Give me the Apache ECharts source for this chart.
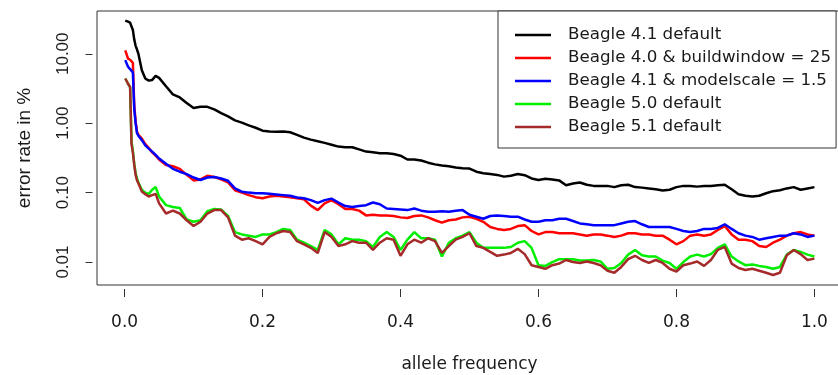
<!DOCTYPE html>
<html>
<head>
<meta charset="utf-8">
<script src="https://cdn.jsdelivr.net/npm/echarts@6/dist/echarts.min.js"></script>
<style>
html,body{margin:0;padding:0;background:#fff;}
#chart{width:838px;height:375px;}
</style>
</head>
<body>
<div id="chart"></div>
<script>
// allele frequency grid (x values)
const freq = [0.001,0.005,0.008,0.010,0.012,0.014,0.016,0.018,0.020,0.025,0.030,0.035,0.040,0.045,0.050,
  0.06,0.07,0.08,0.09,0.10,
  0.11,0.12,0.13,0.14,0.15,0.16,0.17,0.18,0.19,0.20,
  0.21,0.22,0.23,0.24,0.25,0.26,0.27,0.28,0.29,0.30,
  0.31,0.32,0.33,0.34,0.35,0.36,0.37,0.38,0.39,0.40,
  0.41,0.42,0.43,0.44,0.45,0.46,0.47,0.48,0.49,0.50,
  0.51,0.52,0.53,0.54,0.55,0.56,0.57,0.58,0.59,0.60,
  0.61,0.62,0.63,0.64,0.65,0.66,0.67,0.68,0.69,0.70,
  0.71,0.72,0.73,0.74,0.75,0.76,0.77,0.78,0.79,0.80,
  0.81,0.82,0.83,0.84,0.85,0.86,0.87,0.88,0.89,0.90,
  0.91,0.92,0.93,0.94,0.95,0.96,0.97,0.98,0.99,1.00];

const seriesNames = ["Beagle 4.1 default","Beagle 4.0 & buildwindow = 25","Beagle 4.1 & modelscale = 1.5","Beagle 5.0 default","Beagle 5.1 default"];
const seriesColors = ["#000000","#ff0000","#0000ff","#00ee00","#a52a2a"];

// error rate in %
const beagle41Default = [30,29,28,27,22,16,13,11.5,10,5.8,4.4,4.1,4.2,4.8,4.5,
  3.4,2.6,2.35,1.95,1.65,
  1.72,1.72,1.58,1.4,1.25,1.1,1.02,0.93,0.86,0.78,
  0.76,0.75,0.76,0.74,0.68,0.62,0.58,0.55,0.52,0.49,
  0.46,0.45,0.45,0.42,0.39,0.38,0.37,0.37,0.36,0.34,
  0.30,0.30,0.29,0.27,0.255,0.245,0.24,0.23,0.225,0.222,
  0.20,0.19,0.185,0.18,0.17,0.175,0.185,0.178,0.16,0.152,
  0.158,0.155,0.15,0.128,0.135,0.14,0.13,0.125,0.125,0.125,
  0.12,0.128,0.13,0.12,0.118,0.115,0.112,0.107,0.11,0.12,
  0.125,0.125,0.122,0.125,0.125,0.128,0.13,0.112,0.095,0.09,
  0.088,0.09,0.098,0.105,0.108,0.115,0.12,0.11,0.115,0.12];

const beagle40Bw25 = [11.2,8.5,8.2,8.0,7.4,1.8,1.05,0.75,0.68,0.60,0.50,0.44,0.38,0.34,0.30,
  0.25,0.24,0.22,0.18,0.15,
  0.155,0.175,0.168,0.155,0.14,0.108,0.100,0.092,0.086,0.083,
  0.088,0.090,0.088,0.086,0.083,0.080,0.065,0.056,0.070,0.078,
  0.068,0.058,0.058,0.055,0.047,0.048,0.047,0.047,0.046,0.044,
  0.043,0.046,0.047,0.044,0.040,0.037,0.040,0.041,0.044,0.045,
  0.042,0.038,0.032,0.030,0.029,0.030,0.033,0.034,0.028,0.025,
  0.027,0.027,0.026,0.026,0.026,0.025,0.024,0.025,0.025,0.024,
  0.023,0.024,0.026,0.026,0.025,0.025,0.024,0.024,0.021,0.018,
  0.020,0.024,0.025,0.024,0.025,0.029,0.033,0.025,0.021,0.021,
  0.020,0.017,0.0165,0.019,0.021,0.024,0.026,0.027,0.025,0.024];

const beagle41Ms15 = [8.1,6.5,6.0,5.8,5.4,1.6,1.0,0.72,0.66,0.57,0.48,0.43,0.39,0.35,0.31,
  0.26,0.22,0.20,0.185,0.165,
  0.152,0.165,0.168,0.16,0.148,0.115,0.103,0.10,0.098,0.098,
  0.096,0.094,0.092,0.090,0.085,0.083,0.078,0.071,0.078,0.082,
  0.072,0.064,0.062,0.064,0.066,0.072,0.068,0.059,0.058,0.057,
  0.056,0.059,0.055,0.053,0.053,0.054,0.053,0.055,0.056,0.048,
  0.045,0.042,0.046,0.047,0.046,0.045,0.045,0.041,0.038,0.038,
  0.040,0.040,0.042,0.042,0.039,0.036,0.035,0.034,0.034,0.034,
  0.034,0.036,0.038,0.039,0.035,0.032,0.032,0.032,0.032,0.030,
  0.028,0.027,0.028,0.030,0.030,0.031,0.035,0.030,0.026,0.024,
  0.023,0.021,0.022,0.023,0.024,0.024,0.026,0.025,0.023,0.024];

const beagle50Default = [4.4,3.7,3.3,0.55,0.40,0.26,0.19,0.16,0.14,0.11,0.10,0.096,0.11,0.12,0.088,
  0.066,0.062,0.060,0.041,0.038,
  0.040,0.054,0.058,0.057,0.046,0.027,0.025,0.024,0.023,0.025,
  0.025,0.027,0.030,0.029,0.021,0.019,0.017,0.015,0.029,0.025,
  0.018,0.022,0.021,0.021,0.020,0.0165,0.023,0.027,0.023,0.0149,
  0.021,0.027,0.022,0.022,0.021,0.012,0.019,0.022,0.024,0.027,
  0.019,0.016,0.016,0.016,0.016,0.0165,0.019,0.020,0.016,0.009,
  0.0088,0.010,0.011,0.011,0.011,0.0105,0.0105,0.0107,0.0102,0.008,
  0.0082,0.0097,0.0128,0.0149,0.0125,0.012,0.012,0.0105,0.0097,0.008,
  0.010,0.012,0.0128,0.012,0.013,0.016,0.018,0.012,0.0102,0.009,
  0.0092,0.0088,0.0085,0.008,0.0085,0.0128,0.0149,0.014,0.0128,0.012];

const beagle51Default = [4.4,3.7,3.3,0.50,0.38,0.25,0.18,0.15,0.136,0.104,0.095,0.088,0.092,0.096,0.070,
  0.050,0.055,0.050,0.040,0.033,
  0.038,0.050,0.056,0.056,0.044,0.024,0.021,0.022,0.020,0.018,
  0.023,0.026,0.028,0.027,0.020,0.018,0.016,0.0135,0.027,0.023,
  0.017,0.018,0.020,0.019,0.019,0.015,0.019,0.022,0.021,0.0123,
  0.018,0.021,0.019,0.022,0.020,0.0135,0.017,0.021,0.023,0.026,
  0.017,0.016,0.014,0.0123,0.0128,0.0135,0.0155,0.013,0.009,0.0085,
  0.008,0.009,0.0095,0.0107,0.010,0.0097,0.0102,0.0097,0.009,0.0075,
  0.0070,0.0085,0.011,0.0123,0.0107,0.0097,0.0107,0.0097,0.008,0.0073,
  0.009,0.0095,0.0102,0.0088,0.0107,0.0150,0.0165,0.0095,0.0082,0.0077,
  0.0080,0.0075,0.0070,0.0065,0.0070,0.0125,0.0149,0.013,0.0107,0.0112];

const xTicks = [0.0,0.2,0.4,0.6,0.8,1.0];
const yTicks = [0.01,0.1,1,10];

const allValues = [beagle41Default,beagle40Bw25,beagle41Ms15,beagle50Default,beagle51Default];

const chart = echarts.init(document.getElementById('chart'), null, {renderer:'canvas'});
const textColor = '#1a1a1a';

chart.setOption({
  animation:false,
  backgroundColor:'#ffffff',
  grid:{left:97,top:11,width:745,height:274,show:true,borderColor:'#333',borderWidth:1,backgroundColor:'transparent',containLabel:false,outerBoundsMode:'none'},
  legend:{
    orient:'vertical',left:498,top:11,
    data:seriesNames,
    icon:'rect',itemWidth:36,itemHeight:2.5,itemGap:3,
    padding:[14,5,11,17],
    borderColor:'#333',borderWidth:1,backgroundColor:'#fff',
    itemStyle:{borderWidth:0},
    textStyle:{fontFamily:'DejaVu Sans',fontSize:16.7,color:textColor,lineHeight:20,padding:[0,0,0,12]},
    selectedMode:false
  },
  xAxis:{
    type:'value',min:-0.04,max:1.04,offset:4,
    axisLine:{show:false,onZero:false},
    splitLine:{show:false},
    axisTick:{show:true,length:8,lineStyle:{color:'#333',width:1},customValues:xTicks},
    axisLabel:{customValues:xTicks,formatter:v=>Number(v).toFixed(1),fontFamily:'DejaVu Sans',fontSize:17,color:textColor,margin:25},
    name:'allele frequency',nameLocation:'middle',nameGap:67,
    nameTextStyle:{fontFamily:'DejaVu Sans',fontSize:17,color:textColor}
  },
  yAxis:{
    type:'log',logBase:10,min:0.00467,max:41.3,offset:4.5,
    axisLine:{show:false,onZero:false},
    splitLine:{show:false},
    axisTick:{show:true,length:7,lineStyle:{color:'#333',width:1},customValues:yTicks},
    axisLabel:{customValues:yTicks,formatter:v=>Number(v).toFixed(2),rotate:90,fontFamily:'Liberation Sans',fontSize:17,color:textColor,margin:21},
    name:'error rate in %',nameLocation:'middle',nameGap:58,nameRotate:90,
    nameTextStyle:{fontFamily:'Liberation Sans',fontSize:19,color:textColor}
  },
  series:seriesNames.map((n,i)=>({
    name:n,type:'line',showSymbol:false,symbol:'none',
    data:freq.map((f,j)=>[f,allValues[i][j]]),
    lineStyle:{color:seriesColors[i],width:2.5},
    itemStyle:{color:seriesColors[i]},
    emphasis:{disabled:true},
    z:2+i
  }))
});
</script>
</body>
</html>
